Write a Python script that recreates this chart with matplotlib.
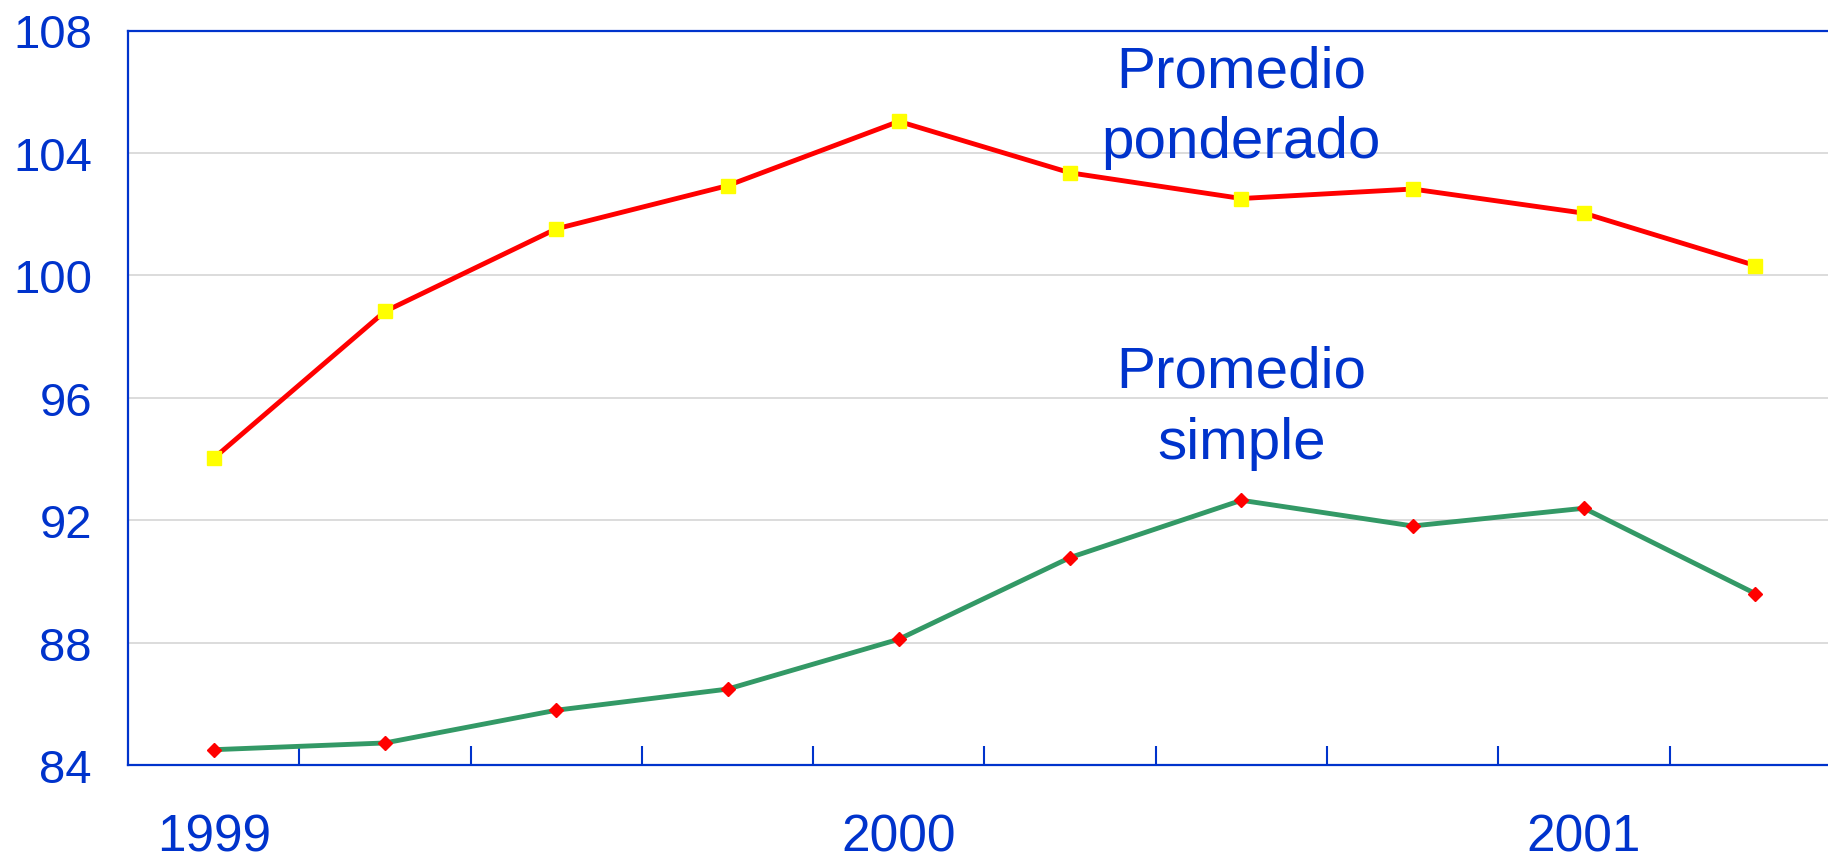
import matplotlib
matplotlib.use("Agg")
import matplotlib.pyplot as plt
from matplotlib.ticker import FixedLocator

plt.rcParams['font.family'] = ['Liberation Sans', 'DejaVu Sans']

# Data (quarterly, 1999Q1 .. 2001Q2)
periods = ["1999-I", "1999-II", "1999-III", "1999-IV", "2000-I", "2000-II",
           "2000-III", "2000-IV", "2001-I", "2001-II"]
ponderado = [94.02, 98.82, 101.52, 102.93, 105.03, 103.35, 102.51, 102.82, 102.03, 100.32]
simple = [84.50, 84.72, 85.79, 86.48, 88.11, 90.78, 92.65, 91.81, 92.39, 89.60]
year_labels = ["1999", "2000", "2001"]
year_positions = [0, 4, 8]
y_ticks = [84, 88, 92, 96, 100, 104, 108]

BLUE = "#0033CC"
GREEN = "#339966"

fig = plt.figure(figsize=(18.28, 8.62), dpi=100)
ax = fig.add_axes([128 / 1828, 96 / 862, 1713 / 1828, 734.5 / 862])

x = list(range(len(periods)))
ax.plot(x, ponderado, color="#FF0000", lw=3.5, marker="s", ms=9.8,
        mfc="#FFFF00", mec="#FFFF00", zorder=3, clip_on=False)
ax.plot(x, simple, color=GREEN, lw=3.5, marker="D", ms=7.2,
        mfc="#FF0000", mec="#FF0000", zorder=3, clip_on=False)

ax.set_xlim(-0.5, len(periods) - 0.5)
ax.set_ylim(84, 108)

ax.set_yticks(y_ticks)
ax.set_yticklabels([str(v) for v in y_ticks])
ax.tick_params(axis="y", length=0, pad=26, labelsize=34, labelcolor=BLUE)

ax.set_xticks(year_positions)
ax.set_xticklabels(year_labels)
ax.tick_params(axis="x", which="major", length=0, pad=34, labelsize=37, labelcolor=BLUE)
ax.xaxis.set_minor_locator(FixedLocator([i + 0.5 for i in range(len(periods) - 1)]))
ax.tick_params(axis="x", which="minor", direction="in", length=13.4, width=1.5, color=BLUE)

ax.grid(axis="y", color="#D6D6D6", lw=1.2)
ax.set_axisbelow(True)

for side in ["left", "top", "bottom"]:
    ax.spines[side].set_color(BLUE)
    ax.spines[side].set_linewidth(1.6)
ax.spines["right"].set_visible(False)

ax.text(6, 106.16, "Promedio", ha="center", va="baseline", fontsize=42, color=BLUE)
ax.text(6, 103.87, "ponderado", ha="center", va="baseline", fontsize=42, color=BLUE)
ax.text(6, 96.37, "Promedio", ha="center", va="baseline", fontsize=42, color=BLUE)
ax.text(6, 94.02, "simple", ha="center", va="baseline", fontsize=42, color=BLUE)

fig.savefig("out.png", dpi=100)
